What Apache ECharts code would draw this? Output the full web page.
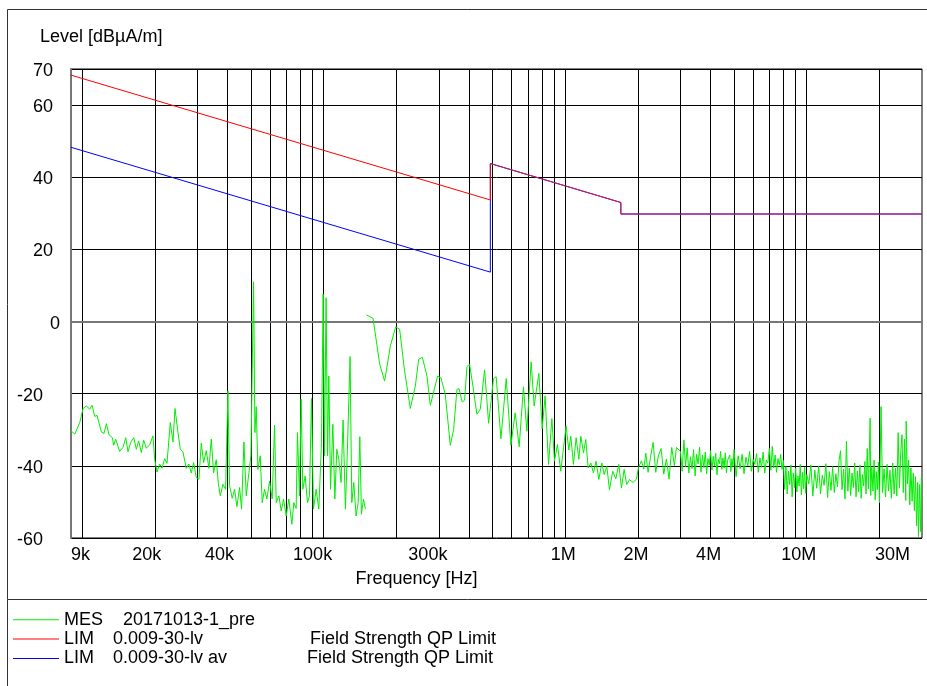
<!DOCTYPE html>
<html><head><meta charset="utf-8">
<script src="https://cdn.jsdelivr.net/npm/echarts@6/dist/echarts.min.js"></script>
<style>html,body{margin:0;padding:0;background:#fff}#c{width:927px;height:686px}</style>
</head><body><div id="c"></div>
<script>
// ---- data (frequency in kHz, level in dBµA/m) ----
const xTickValues = [9, 20, 40, 100, 300, 1000, 2000, 4000, 10000, 30000];
const xTickLabels = ['9k', '20k', '40k', '100k', '300k', '1M', '2M', '4M', '10M', '30M'];
const xGridValues = [10, 20, 30, 40, 50, 60, 70, 80, 90,
  100, 200, 300, 400, 500, 600, 700, 800, 900,
  1000, 2000, 3000, 4000, 5000, 6000, 7000, 8000, 9000,
  10000, 20000];
const yMin = -60, yMax = 70, yStep = 20;

const limQP = [[9, 68.3], [490, 33.7], [490, 43.8], [1700, 33.0], [1700, 29.8], [30000, 29.8]];
const limAV = [[9, 48.3], [490, 13.7], [490, 43.8], [1700, 33.0], [1700, 29.8], [30000, 29.8]];

const mesLow = [[9.0,-30.3],[9.33,-31.2],[9.78,-28],[10.1,-24.1],[10.42,-23.4],[10.76,-24.3],[11.0,-23.2],[11.28,-26.3],[11.53,-26],[12.02,-30.6],[12.33,-31],[12.61,-28.3],[12.93,-31.4],[13.35,-32.2],[13.52,-34.3],[13.78,-32.6],[14.31,-36],[14.77,-34.9],[15.16,-32.2],[15.5,-36.1],[15.9,-33.5],[16.36,-32.2],[16.78,-35.4],[17.15,-33.1],[17.6,-36.3],[17.99,-32.9],[18.45,-35.1],[19.05,-34.2],[19.66,-31.7],[19.98,-38.2],[20.43,-41.7],[20.96,-39.5],[21.43,-40.7],[21.98,-38],[22.47,-39.3],[23.19,-28],[23.79,-33.4],[24.25,-24.1],[24.95,-30.8],[25.51,-35.4],[26.16,-36.1],[27.0,-40.7],[27.7,-39.5],[28.32,-42],[28.96,-39.1],[29.71,-43.2],[30.47,-43.7],[31.16,-33.7],[31.86,-39.1],[32.68,-35.8],[33.52,-40.7],[34.27,-32.6],[35.04,-41.9],[35.94,-38.3],[36.63,-44.6],[37.34,-48.3],[38.3,-45.1],[39.28,-46.5],[40.17,-19.2],[40.81,-45.5],[41.86,-49],[42.8,-46.5],[43.76,-51.3],[44.89,-46],[45.75,-52],[46.78,-33.4],[47.83,-48.3],[49.06,-41.9],[50.0,-37.2],[51.29,11.0],[51.94,-30.8],[52.61,-23.6],[53.45,-41],[54.65,-37.2],[55.7,-50.2],[56.95,-46.5],[58.23,-49.2],[59.73,-44.2],[61.26,-49.2],[62.64,-28.7],[63.64,-50.2],[65.28,-48.3],[66.75,-52.5],[68.25,-49.2],[69.98,-53.9],[71.78,-49.2],[73.86,-56.2],[75.28,-50.2],[76.97,-51.8],[77.95,-30.8],[79.45,-48.3],[80.72,-21.5],[82.02,-46.5],[83.86,-42.8],[85.74,-50.2],[87.39,-48.3],[89.07,-21.3],[90.8,-52],[93.13,-46.5],[95.53,-52],[97.99,-33.5],[99.56,7.6],[100.8,-37.2],[102.4,6.6],[103.8,-37.2],[105.1,-15.1],[106.8,-46.5],[109.2,-28.5],[111.3,-49.2],[113.4,-35.4],[115.6,-38.2],[118.1,-44.6],[120.4,-27.3],[123.1,-52],[125.4,-35.8],[128.7,-9.7],[130.8,-50.2],[133.3,-44.6],[136.3,-53.9],[139,-50.2],[141.2,-31.9],[143.4,-53.4],[146.2,-49.2],[149,-52]];

const mesHigh = [[150.3,1.85],[160.2,0.9],[170.7,-11.85],[178.9,-16.5],[188.9,-6.8],[198.7,-1.5],[206.4,-2.1],[215.9,-13.2],[228.5,-24.1],[239.7,-17.9],[247.4,-10.5],[256.2,-9.9],[267.8,-15.1],[276.5,-23.2],[287.2,-18.8],[296.4,-15.1],[306,-15.6],[318.9,-20.2],[334.5,-34.3],[345.3,-29.9],[356.4,-18.8],[363.3,-18.6],[374.9,-22.3],[383.3,-21.8],[392,-12.5],[402,-11.85],[415,-17.9],[431,-25.7],[445,-24.3],[464,-13.4],[482,-28.2],[505,-15.8],[518,-15.3],[542,-32.5],[570,-15.8],[596,-34.3],[621,-25.3],[645,-34.7],[672,-18.1],[694,-30.4],[723,-11.2],[744,-23.4],[778,-14.4],[803,-29.7],[826,-20.6],[853,-39.6],[881,-26.9],[903,-38.7],[929,-34.1],[959,-41.5],[984,-35],[1009,-29],[1035,-35.6],[1055,-31.8],[1082,-39.6],[1110,-32.2],[1139,-38.2],[1161,-31.8],[1191,-36.4],[1217,-32.7],[1245,-40.6],[1277,-39.2],[1309,-42],[1343,-38.7],[1378,-43.8],[1418,-39.2],[1450,-42.4],[1487,-40.1],[1525,-46.6],[1574,-41.5],[1620,-43.6],[1667,-39.6],[1710,-46.1],[1754,-41],[1798,-45.2],[1845,-43.8],[1911,-44.6],[1972,-43.7],[2011,-40.5],[2069,-38.6],[2115,-40.9],[2156,-36.5],[2204,-41.8],[2254,-37.7],[2312,-33.5],[2371,-41.8],[2432,-37.2],[2495,-35.2],[2559,-42.3],[2625,-38.1],[2692,-43.7],[2761,-34.9],[2833,-40],[2887,-34.9],
[3000,-36.0],[3050,-41.5],[3100,-32.8],[3150,-40.2],[3200,-35.0],[3250,-42.0],[3300,-37.5],[3350,-40.8],[3400,-35.5],[3450,-42.8],[3500,-36.8],[3550,-39.5],[3600,-34.8],[3650,-41.8],[3700,-37.0],[3750,-40.5],[3800,-36.2],[3850,-42.2],[3900,-38.0],[3950,-39.8],[4000,-35.8],[4050,-41.2],[4100,-37.4],[4150,-40.0],[4200,-36.5],[4250,-42.5],[4300,-38.2],[4350,-39.4],[4400,-36.0],[4450,-41.0],[4500,-37.8],[4550,-40.6],[4600,-36.4],[4650,-42.0],[4700,-38.5],[4750,-39.0],[4800,-37.0],[4850,-41.6],[4900,-38.0],[4950,-40.2],[5000,-35.5],
[5100,-43.0],[5200,-37.2],[5300,-40.8],[5400,-36.8],[5500,-42.2],[5600,-37.6],[5700,-40.0],[5800,-36.0],[5900,-41.5],[6000,-38.2],[6100,-39.6],[6200,-36.6],[6300,-41.8],[6400,-37.8],[6500,-40.4],[6600,-36.2],[6700,-42.0],[6800,-38.4],[6900,-39.2],[7000,-35.2],[7100,-41.2],[7200,-34.6],[7300,-40.6],[7400,-37.0],[7500,-41.8],[7600,-38.0],[7700,-39.8],[7800,-36.8],[7900,-41.0],[8000,-38.5],[8100,-46.5],[8200,-40.2],[8300,-47.8],[8400,-41.5],[8500,-45.2],[8600,-39.8],[8700,-48.6],[8800,-42.0],[8900,-46.0],[9000,-40.6],[9100,-47.2],[9200,-42.8],[9300,-45.6],[9400,-39.6],[9500,-48.0],[9600,-41.8],[9700,-46.4],[9800,-40.4],[9900,-47.6],[10000,-42.4],
[10200,-45.0],[10400,-39.8],[10600,-48.4],[10800,-41.2],[11000,-46.2],[11200,-40.0],[11400,-47.8],[11600,-42.6],[11800,-45.4],[12000,-39.4],[12200,-48.8],[12400,-41.6],[12600,-46.8],[12800,-40.2],[13000,-47.4],[13200,-42.2],[13400,-45.8],[13600,-38.6],[13800,-35.8],[14000,-46.6],[14200,-41.0],[14400,-49.2],[14600,-33.2],[14800,-47.0],[15000,-40.6],[15200,-48.2],[15400,-42.0],[15600,-46.0],[15800,-39.2],[16000,-48.6],[16200,-41.4],[16400,-47.2],[16600,-39.8],[16800,-49.0],[17000,-42.4],[17200,-45.6],[17400,-38.8],[17600,-47.8],[17800,-35.2],[18000,-46.4],[18300,-26.8],[18400,-48.2],[18600,-40.4],[18800,-47.0],[19000,-38.4],[19200,-49.4],[19400,-41.6],[19600,-46.6],[19800,-39.0],[20000,-50.2],
[20300,-23.6],[20600,-47.4],[20900,-40.8],[21200,-48.6],[21500,-39.6],[21800,-47.0],[22100,-41.2],[22400,-49.0],[22700,-39.2],[23000,-47.8],[23300,-40.6],[23600,-48.4],[23900,-30.8],[24200,-46.2],[24500,-36.0],[24800,-31.4],[25100,-47.4],[25400,-32.6],[25700,-49.6],[25800,-27.6],[26100,-45.0],[26400,-38.4],[26700,-50.8],[27000,-40.6],[27300,-49.8],[27600,-42.0],[27900,-52.4],[28200,-43.0],[28500,-56.6],[28800,-44.6],[29000,-59.6],[29300,-45.2],[29600,-58.2],[29800,-43.6],[30000,-42.8]];

const legendRows = [
  ['MES', '20171013-1_pre', ''],
  ['LIM', '0.009-30-lv', 'Field Strength QP Limit'],
  ['LIM', '0.009-30-lv av', 'Field Strength QP Limit']
];
const seriesNames = ['MES', 'LIM QP', 'LIM AV'];

// ---- styling ----
const FONT = "'Liberation Sans', Arial, sans-serif";
const GREEN = '#00ee00', RED = '#ff0000', BLUE = '#0000ff', OVER = '#d81c4c';
const fs = {fontSize: 18, fontFamily: FONT, color: '#000'};

function xLabel(v) {
  let i = xTickValues.findIndex(t => Math.abs(v - t) / t < 1e-6);
  if (i < 0) return '';
  const s = xTickLabels[i];
  let key;
  if (i === 0) key = 'e';
  else if (i === xTickValues.length - 1) key = 'm';
  else key = 's' + s.length;
  return '{' + key + '|' + s + '}';
}
function yLabel(v) {
  const s = String(v);
  return '{p' + s.length + '|' + s + '}';
}
function legendFmt(name) {
  const i = seriesNames.indexOf(name);
  const r = legendRows[i];
  if (i === 0) return '{a0|' + r[0] + '}{b0|' + r[1] + '}';
  if (i === 1) return '{a1|' + r[0] + '}{b1|' + r[1] + '}{c|' + r[2] + '}';
  return '{a1|' + r[0] + '}{b2|' + r[1] + '}{c|' + r[2] + '}';
}
const lg = Object.assign({lineHeight: 19.4}, fs);

// The QP limit below the step (drawn red) and the part where it coincides with the AV limit
const qpJump = limQP.findIndex((p, i) => i > 0 && p[0] === limQP[i - 1][0]);
const limQPLow = limQP.slice(0, qpJump + 1);
const limQPHigh = limQP.slice(qpJump);

const chart = echarts.init(document.getElementById('c'), null, {renderer: 'canvas'});
chart.setOption({
  animation: false,
  backgroundColor: '#fff',
  title: {text: 'Level [dBµA/m]', left: 40, top: 28, padding: 0,
    textStyle: Object.assign({fontWeight: 'normal'}, fs)},
  graphic: [
    {type: 'rect', silent: true, shape: {x: 7.5, y: 9.5, width: 960, height: 590},
      style: {fill: 'none', stroke: '#333', lineWidth: 1}},
    {type: 'line', silent: true, shape: {x1: 7.5, y1: 599.5, x2: 7.5, y2: 700},
      style: {stroke: '#333', lineWidth: 1}}
  ],
  grid: {left: 71, right: 5, top: 69, bottom: 148, show: true, borderColor: '#000', borderWidth: 1, containLabel: false},
  xAxis: {
    type: 'log', logBase: 10, min: 9, max: 30000,
    axisLine: {show: true, lineStyle: {color: '#777', width: 2}},
    axisTick: {show: false, customValues: xGridValues},
    splitLine: {show: true, lineStyle: {color: '#000', width: 1}},
    axisLabel: Object.assign({
      customValues: xTickValues, formatter: xLabel, margin: 8,
      showMinLabel: true, showMaxLabel: true, hideOverlap: false,
      alignMinLabel: 'left', alignMaxLabel: 'right',
      rich: {
        e: Object.assign({}, fs),
        s2: Object.assign({padding: [0, 4, 0, 0]}, fs),
        s3: Object.assign({padding: [0, 16, 0, 0]}, fs),
        s4: Object.assign({padding: [0, 22, 0, 0]}, fs),
        m: Object.assign({padding: [0, 12, 0, 0]}, fs)
      }
    }, fs),
    name: 'Frequency [Hz]', nameLocation: 'middle', nameGap: 32,
    nameTextStyle: Object.assign({padding: [0, 160, 0, 0]}, fs)
  },
  yAxis: {
    type: 'value', min: yMin, max: yMax, interval: yStep,
    axisLine: {show: true, lineStyle: {color: '#777', width: 2}},
    axisTick: {show: false},
    splitLine: {show: true, lineStyle: {color: '#000', width: 1}},
    axisLabel: Object.assign({
      formatter: yLabel, margin: 11, showMinLabel: true, showMaxLabel: true,
      rich: {
        p1: Object.assign({padding: [4, 0, 0, 0]}, fs),
        p2: Object.assign({padding: [4, 7, 0, 0]}, fs),
        p3: Object.assign({padding: [4, 17, 0, 0]}, fs)
      }
    }, fs)
  },
  legend: {
    orient: 'vertical', left: 13, top: 610, padding: 0, itemGap: 0,
    itemWidth: 46, itemHeight: 1, icon: 'rect', selectedMode: false,
    itemStyle: {borderWidth: 0},
    data: [
      {name: 'MES', itemStyle: {color: GREEN}},
      {name: 'LIM QP', itemStyle: {color: RED}},
      {name: 'LIM AV', itemStyle: {color: BLUE}}
    ],
    formatter: legendFmt,
    textStyle: Object.assign({
      rich: {
        a0: Object.assign({width: 59}, lg),
        a1: Object.assign({width: 49}, lg),
        b0: Object.assign({}, lg),
        b1: Object.assign({width: 197}, lg),
        b2: Object.assign({width: 194}, lg),
        c: Object.assign({}, lg)
      }
    }, lg)
  },
  series: [
    {name: 'MES', type: 'line', data: mesLow, symbol: 'none', lineStyle: {color: GREEN, width: 1}, itemStyle: {color: GREEN}},
    {name: 'MES', type: 'line', data: mesHigh, symbol: 'none', lineStyle: {color: GREEN, width: 1}, itemStyle: {color: GREEN}},
    {name: 'LIM AV', type: 'line', data: limAV, symbol: 'none', lineStyle: {color: BLUE, width: 1}, itemStyle: {color: BLUE}},
    {name: 'LIM QP', type: 'line', data: limQPLow, symbol: 'none', lineStyle: {color: RED, width: 1}, itemStyle: {color: RED}},
    {name: 'LIM QP', type: 'line', data: limQPHigh, symbol: 'none', lineStyle: {color: OVER, width: 1}, itemStyle: {color: OVER}}
  ]
});
</script>
</body></html>
